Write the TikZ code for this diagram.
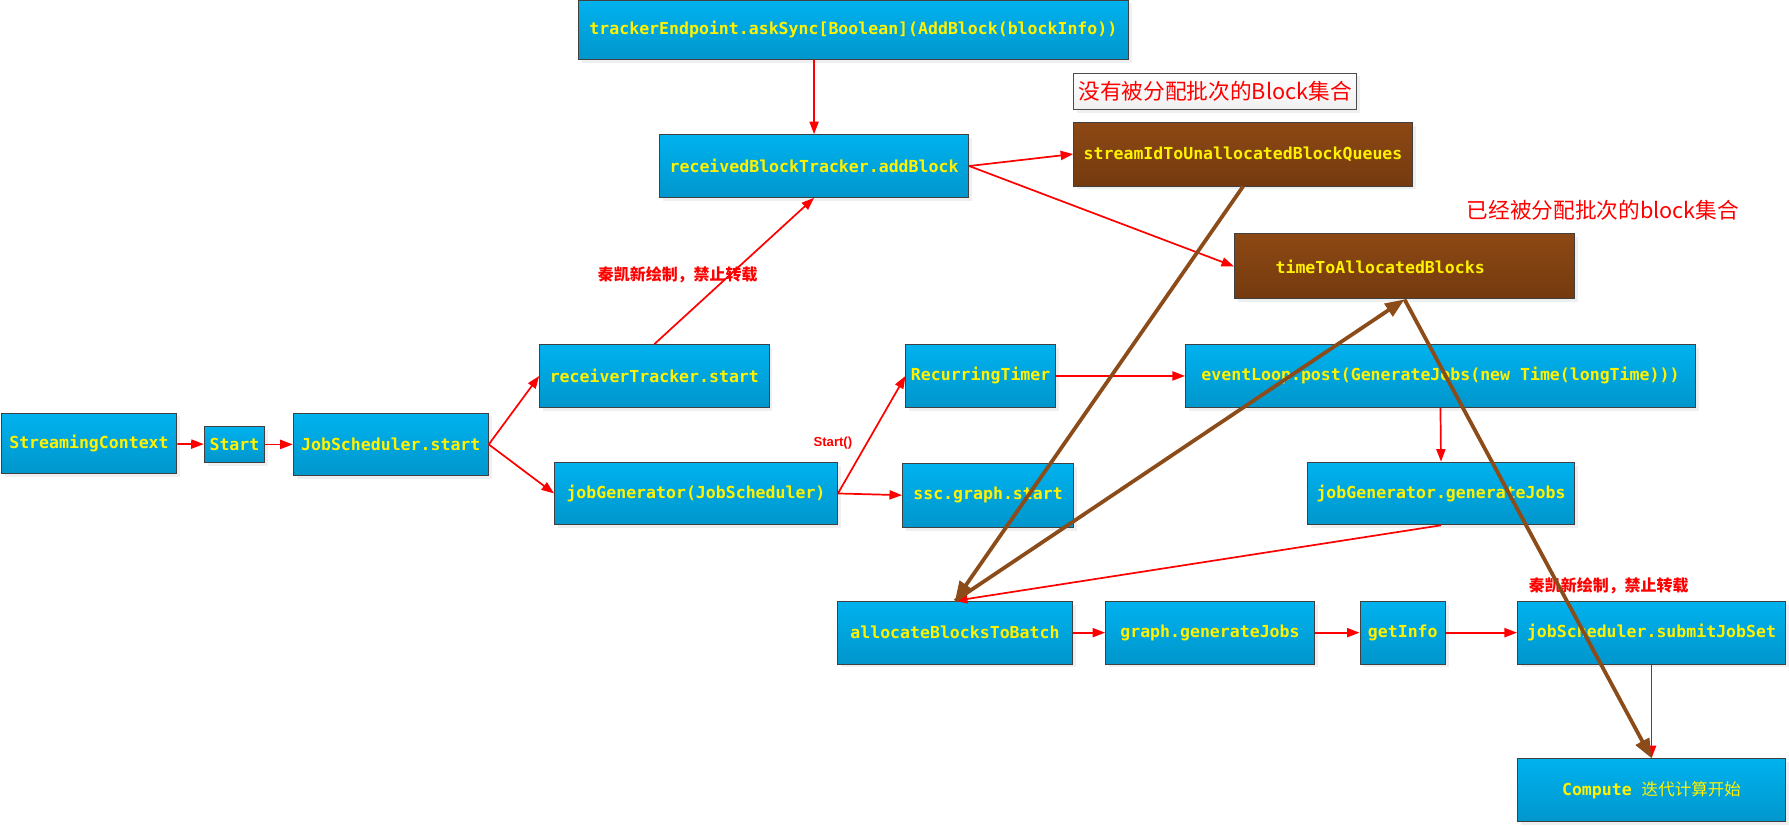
\documentclass[tikz,border=0pt]{standalone}
\usepackage{fontspec}
\usetikzlibrary{arrows.meta,shadows}
\newfontfamily\codefont{DejaVu Sans Mono}
\newfontfamily\cjkfont{Noto Sans CJK SC}
\newfontfamily\tagfont{Liberation Sans}
\definecolor{boxtop}{RGB}{0,178,238}
\definecolor{boxbot}{RGB}{0,150,204}
\definecolor{browntop}{RGB}{140,72,20}
\definecolor{brownbot}{RGB}{116,58,14}
\definecolor{brownline}{RGB}{139,76,26}

\begin{document}
\begin{tikzpicture}[x=1pt,y=-1pt,
    codebox/.style={draw=black!75, line width=0.8pt, top color=boxtop, bottom color=boxbot,
        text=yellow, font={\codefont\bfseries\fontsize{14.5}{17}\selectfont}, inner sep=1pt,
        drop shadow={shadow xshift=3pt,shadow yshift=-3pt,fill=black!12}},
    blockbox/.style={codebox, top color=browntop, bottom color=brownbot},
    notebox/.style={draw=black!70, line width=0.8pt, top color=white, bottom color=black!6,
        text=red, font={\cjkfont\fontsize{19}{22}\selectfont}, inner sep=1pt,
        drop shadow={shadow xshift=3pt,shadow yshift=-3pt,fill=black!12}},
    redtext/.style={text=red, font={\cjkfont\bfseries\fontsize{14}{16}\selectfont}},
    redline/.style={draw=red, line width=1.5pt, -{Triangle[length=11pt,width=8pt]}},
    brownarrow/.style={draw=brownline, line width=3.3pt, -{Triangle[length=17pt,width=13pt]}}]
    \useasboundingbox (0,0) rectangle (1568,724);

    % top part: block tracking
    \node[codebox,minimum width=482pt,minimum height=52pt] (tracker) at (748,26) {trackerEndpoint.askSync[Boolean](AddBlock(blockInfo))};
    \node[codebox,minimum width=271pt,minimum height=55pt] (addblock) at (713.5,145.5) {receivedBlockTracker.addBlock};
    \node[notebox,minimum width=248pt,minimum height=32pt] (unallocnote) at (1065,80) {没有被分配批次的Block集合};
    \node[blockbox,minimum width=297pt,minimum height=56pt] (unalloc) at (1089.5,135) {streamIdToUnallocatedBlockQueues};
    \node[text=red,font={\cjkfont\fontsize{19}{22}\selectfont}] (allocnote) at (1405,184) {已经被分配批次的block集合};
    \node[blockbox,minimum width=298pt,minimum height=57pt,text width=226pt] (alloc) at (1231,233.5) {timeToAllocatedBlocks};

    % middle part: starting
    \node[codebox,minimum width=154pt,minimum height=53pt] (ssc) at (78,388.5) {StreamingContext};
    \node[codebox,minimum width=53pt,minimum height=31pt] (start) at (205.5,389.5) {Start};
    \node[codebox,minimum width=171pt,minimum height=55pt] (jobsched) at (342.5,389.5) {JobScheduler.start};
    \node[codebox,minimum width=201pt,minimum height=55pt] (recvtracker) at (573.5,329.5) {receiverTracker.start};
    \node[codebox,minimum width=248pt,minimum height=55pt] (jobgen) at (610,432.5) {jobGenerator(JobScheduler)};
    \node[codebox,minimum width=131pt,minimum height=55pt] (timer) at (859.5,329.5) {RecurringTimer};
    \node[codebox,minimum width=150pt,minimum height=56pt] (graphstart) at (866,434) {ssc.graph.start};
    \node[codebox,minimum width=447pt,minimum height=55pt] (eventloop) at (1262.5,329.5) {eventLoop.post(GenerateJobs(new Time(longTime)))};
    \node[codebox,minimum width=234pt,minimum height=55pt] (genjobs) at (1263,432.5) {jobGenerator.generateJobs};

    % bottom part: batch
    \node[codebox,minimum width=206pt,minimum height=55pt] (allocbatch) at (837,554.5) {allocateBlocksToBatch};
    \node[codebox,minimum width=183pt,minimum height=55pt] (graphgen) at (1060.5,554.5) {graph.generateJobs};
    \node[codebox,minimum width=75pt,minimum height=55pt] (getinfo) at (1229.5,554.5) {getInfo};
    \node[codebox,minimum width=235pt,minimum height=55pt] (submit) at (1447.5,554.5) {jobScheduler.submitJobSet};
    \node[codebox,minimum width=235pt,minimum height=55pt] (compute) at (1447.5,692.5) {Compute {\cjkfont\mdseries 迭代计算开始}};

    \node[redtext] (tag1) at (594,241) {秦凯新绘制，禁止转载};
    \node[redtext] (tag2) at (1410,513) {秦凯新绘制，禁止转载};
    \node[text=red,font={\tagfont\bfseries\fontsize{11.5}{13}\selectfont}] (starttag) at (730,388) {Start()};

    \draw [redline] (ssc) -- (start);
    \draw [redline] (start) -- (jobsched);
    \draw [redline] (jobsched.east) -- (recvtracker.west);
    \draw [redline] (jobsched.east) -- (jobgen.west);
    \draw [redline] (recvtracker.north) -- (addblock.south);
    \draw [redline] (tracker.south -| addblock.north) -- (addblock.north);
    \draw [redline] (addblock.east) -- (unalloc.west);
    \draw [redline] (addblock.east) -- (alloc.west);
    \draw [redline] (jobgen.east) -- (timer.west);
    \draw [redline] (jobgen.east) -- (graphstart.west);
    \draw [redline] (timer) -- (eventloop);
    \draw [redline] (eventloop.south) -- (genjobs.north);
    \draw [redline] (genjobs.south) -- (allocbatch.north);
    \draw [redline] (allocbatch) -- (graphgen);
    \draw [redline] (graphgen) -- (getinfo);
    \draw [redline] (getinfo) -- (submit);
    \draw [redline] (submit) -- (compute);

    \draw [brownarrow] (unalloc.south) -- (allocbatch.north);
    \draw [brownarrow] (allocbatch.north) -- (alloc.south);
    \draw [brownarrow] (alloc.south) -- (compute.north);
\end{tikzpicture}
\end{document}
